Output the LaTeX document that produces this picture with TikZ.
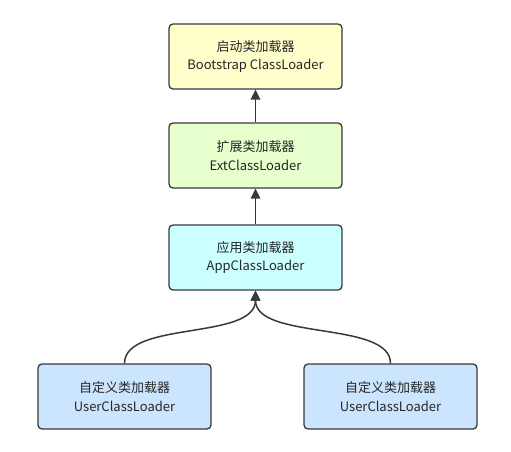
\documentclass[tikz,border=0pt]{standalone}
\usepackage{fontspec}
\setmainfont{Noto Sans CJK SC}
\usepackage{xcolor}
\usetikzlibrary{arrows.meta}

\definecolor{bootfill}{HTML}{FFFFCC}
\definecolor{extfill}{HTML}{E6FFCC}
\definecolor{appfill}{HTML}{CCFFFF}
\definecolor{userfill}{HTML}{CCE5FF}
\definecolor{edge}{HTML}{36393D}

\begin{document}
\begin{tikzpicture}[x=1pt, y=-1pt,
    loader/.style={draw=edge, line width=1.3pt, rounded corners=4pt,
        minimum width=173pt, minimum height=65pt, align=center,
        font=\fontsize{13}{18.5}\selectfont, text=black!85},
    link/.style={draw=edge, line width=1.5pt, -{Triangle[length=10pt,width=9.5pt]}}]

    \useasboundingbox (0, 0) rectangle (511, 451);

    % The loaders, top to bottom
    \node[loader, fill=bootfill] (boot) at (255.5, 56.5) {启动类加载器\\Bootstrap ClassLoader};
    \node[loader, fill=extfill] (ext) at (255.5, 155.5) {扩展类加载器\\ExtClassLoader};
    \node[loader, fill=appfill] (app) at (255.5, 257.5) {应用类加载器\\AppClassLoader};
    \node[loader, fill=userfill] (userA) at (124.5, 396.5) {自定义类加载器\\UserClassLoader};
    \node[loader, fill=userfill] (userB) at (390.5, 396.5) {自定义类加载器\\UserClassLoader};

    % Parent links
    \draw[link] (ext.north) -- (boot.south);
    \draw[link] (app.north) -- (ext.south);
    \draw[link] (userA.north) .. controls +(0, -43) and +(0, 50) .. (app.south);
    \draw[link] (userB.north) .. controls +(0, -43) and +(0, 50) .. (app.south);

\end{tikzpicture}
\end{document}
